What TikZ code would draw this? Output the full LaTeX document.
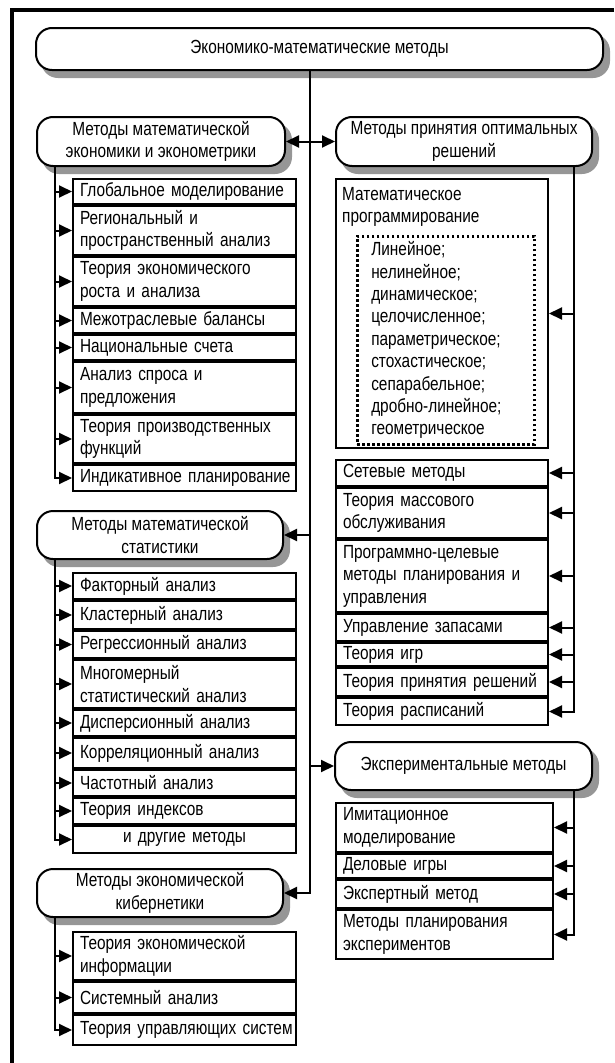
\documentclass[tikz,border=0pt]{standalone}
\usepackage{fontspec}
\setmainfont{Liberation Sans}[FakeStretch=0.81]
\usetikzlibrary{positioning,arrows.meta}
\definecolor{shadowgray}{RGB}{150,150,150}

\begin{document}
\begin{tikzpicture}[x=1pt, y=-1pt,
font = \fontsize{19}{22.5}\selectfont,
arr/.style = {line width=2pt, -{Triangle[length=13pt,width=12pt]}},
grp/.style = {shape=rectangle, rounded corners=16pt, draw, line width=2pt,
	fill=white, align=center, inner sep=1pt},
shadowbox/.style = {fill=shadowgray, draw=shadowgray, line width=2pt, rounded corners=16pt},
item/.style = {shape=rectangle, draw, line width=2pt, fill=white,
	align=left, anchor=north west, inner xsep=7pt, inner ysep=1pt},
litem/.style = {item, text width=209pt},
ritem/.style = {item, text width=198pt},
eitem/.style = {item, text width=203pt},
dotbox/.style = {shape=rectangle, draw, line width=2.5pt, dash pattern=on 2.5pt off 2.5pt,
	align=left, anchor=north west, inner xsep=14pt, text width=149pt,
	minimum height=208pt, font=\fontsize{19}{22.4}\selectfont}]

\useasboundingbox (0,0) rectangle (614,1063);
\draw[line width=4pt] (614,10) -- (12,10) -- (12,1063);

% shadows of the rounded boxes
\filldraw[shadowbox] (42,35) rectangle (609,77);
\filldraw[shadowbox] (43,124) rectangle (291,173);
\filldraw[shadowbox] (43,518) rectangle (289,566);
\filldraw[shadowbox] (43,876) rectangle (289,924);
\filldraw[shadowbox] (342,124) rectangle (598,173);
\filldraw[shadowbox] (341,749) rectangle (598,797);

\node[grp, minimum width=567pt, minimum height=42pt] (emm) at (319.5,49) {Экономико-математические методы};

% left column
\node[grp, minimum width=248pt, minimum height=49pt] (mme) at (161,141.5) {Методы математической\\экономики и эконометрики};
\node[litem, minimum height=25pt] (a1) at (72,178) {Глобальное~моделирование};
\node[litem, minimum height=49pt, below=0pt of a1] (a2) {Региональный и\\пространственный анализ};
\node[litem, minimum height=49pt, below=0pt of a2] (a3) {Теория экономического\\роста и анализа};
\node[litem, minimum height=25pt, below=0pt of a3] (a4) {Межотраслевые балансы};
\node[litem, minimum height=25pt, below=0pt of a4] (a5) {Национальные счета};
\node[litem, minimum height=51pt, below=0pt of a5] (a6) {Анализ спроса и\\предложения};
\node[litem, minimum height=48pt, below=0pt of a6] (a7) {Теория производственных\\функций};
\node[litem, minimum height=26pt, below=0pt of a7] (a8) {Индикативное~планирование};

\node[grp, minimum width=246pt, minimum height=48pt] (mms) at (160,535) {Методы математической\\статистики};
\node[litem, minimum height=26pt] (b1) at (72,572) {Факторный анализ};
\node[litem, minimum height=28pt, below=0pt of b1] (b2) {Кластерный анализ};
\node[litem, minimum height=27pt, below=0pt of b2] (b3) {Регрессионный анализ};
\node[litem, minimum height=48pt, below=0pt of b3] (b4) {Многомерный\\статистический анализ};
\node[litem, minimum height=26pt, below=0pt of b4] (b5) {Дисперсионный анализ};
\node[litem, minimum height=30pt, below=0pt of b5] (b6) {Корреляционный анализ};
\node[litem, minimum height=26pt, below=0pt of b6] (b7) {Частотный анализ};
\node[litem, minimum height=26pt, below=0pt of b7] (b8) {Теория индексов};
\node[litem, minimum height=27pt, align=center, below=0pt of b8] (b9) {и другие методы};

\node[grp, minimum width=246pt, minimum height=48pt] (mek) at (160,893) {Методы экономической\\кибернетики};
\node[litem, minimum height=48pt] (c1) at (72,931) {Теория экономической\\информации};
\node[litem, minimum height=31pt, below=0pt of c1] (c2) {Системный анализ};
\node[litem, minimum height=30pt, below=0pt of c2] (c3) {Теория~управляющих~систем};

% right column
\node[grp, minimum width=256pt, minimum height=49pt] (mpr) at (464,141.5) {Методы принятия оптимальных\\решений};
\node[ritem, minimum height=269pt] (mp) at (335,178) {};
\node[anchor=north west, align=left, inner sep=0pt] (mpt) at ([xshift=7pt,yshift=-9pt]mp.north west) {Математическое\\программирование};
\node[dotbox] (mpl) at ([xshift=21pt,yshift=-57pt]mp.north west) {Линейное;\\нелинейное;\\динамическое;\\целочисленное;\\параметрическое;\\стохастическое;\\сепарабельное;\\дробно-линейное;\\геометрическое};
\node[ritem, minimum height=26pt, below=10pt of mp] (d1) {Сетевые методы};
\node[ritem, minimum height=50pt, below=0pt of d1] (d2) {Теория массового\\обслуживания};
\node[ritem, minimum height=72pt, below=0pt of d2] (d3) {Программно-целевые\\методы планирования и\\управления};
\node[ritem, minimum height=27pt, below=0pt of d3] (d4) {Управление запасами};
\node[ritem, minimum height=23pt, below=0pt of d4] (d5) {Теория игр};
\node[ritem, minimum height=28pt, below=0pt of d5] (d6) {Теория~принятия~решений};
\node[ritem, minimum height=27pt, below=0pt of d6] (d7) {Теория расписаний};

\node[grp, minimum width=257pt, minimum height=48pt] (exm) at (463.5,766) {Экспериментальные методы};
\node[eitem, minimum height=49pt] (e1) at (335,802) {Имитационное\\моделирование};
\node[eitem, minimum height=24pt, below=0pt of e1] (e2) {Деловые игры};
\node[eitem, minimum height=28pt, below=0pt of e2] (e3) {Экспертный метод};
\node[eitem, minimum height=49pt, below=0pt of e3] (e4) {Методы планирования\\экспериментов};

% connectors
\coordinate (sp) at (310,0);
\coordinate (lb) at (55,0);
\coordinate (rb) at (574,0);

\draw[arr] (sp |- emm.south) -- (sp |- mek.east) -- (mek.east);
\draw[arr] (sp |- mme.east) -- (mme.east);
\draw[arr] (sp |- mpr.west) -- (mpr.west);
\draw[arr] (sp |- mms.east) -- (mms.east);
\draw[arr] (sp |- exm.west) -- (exm.west);

\draw[arr] (lb |- mme.south) -- (lb |- a8.west) -- (a8.west);
\foreach \i in {1,...,7} \draw[arr] (lb |- a\i.west) -- (a\i.west);
\draw[arr] (lb |- mms.south) -- (lb |- b9.west) -- (b9.west);
\foreach \i in {1,...,8} \draw[arr] (lb |- b\i.west) -- (b\i.west);
\draw[arr] (lb |- mek.south) -- (lb |- c3.west) -- (c3.west);
\foreach \i in {1,2} \draw[arr] (lb |- c\i.west) -- (c\i.west);

\draw[arr] (rb |- mpr.south) -- (rb |- d7.east) -- (d7.east);
\draw[arr] (rb |- mp.east) -- (mp.east);
\foreach \i in {1,...,6} \draw[arr] (rb |- d\i.east) -- (d\i.east);
\draw[arr] (rb |- exm.south) -- (rb |- e4.east) -- (e4.east);
\foreach \i in {1,2,3} \draw[arr] (rb |- e\i.east) -- (e\i.east);
\end{tikzpicture}
\end{document}
